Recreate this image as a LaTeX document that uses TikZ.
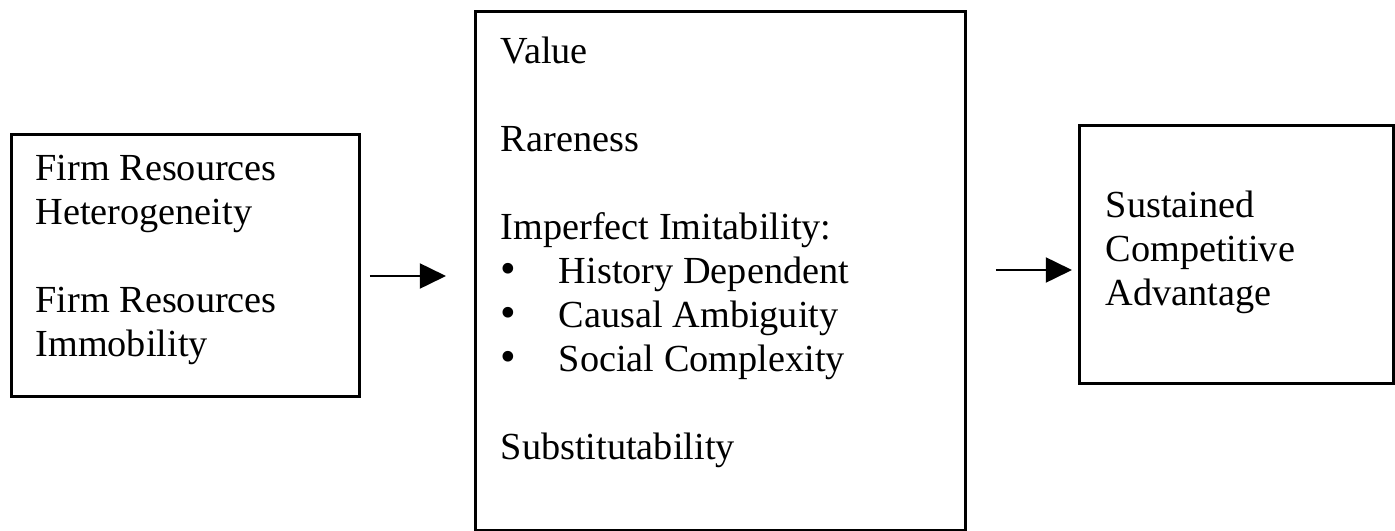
\documentclass[tikz,border=0pt]{standalone}
\usepackage{fontspec}
\setmainfont{Liberation Serif}
\usetikzlibrary{arrows.meta, positioning}

\newcommand{\bulletitem}{\makebox[18.2pt][l]{\fontsize{14}{13.8}\selectfont\textbullet}}

\tikzset{
  box/.style={draw, line width=0.9pt, rectangle, inner sep=0pt, anchor=north west},
  boxtext/.style={anchor=north west, align=left, inner sep=0pt},
  flow/.style={-{Triangle[length=8.2pt, width=7.8pt]}, line width=0.8pt}
}

\begin{document}
\begin{tikzpicture}[font=\fontsize{12}{13.8}\selectfont]
% Grid unit (one step of the layout)
\pgfmathsetmacro{\ppx}{0.3135}
\begin{scope}[x=\ppx pt, y=-\ppx pt]
\useasboundingbox (0,0) rectangle (1395,531);

% Draw boxes
\node[box, minimum width=348*\ppx pt, minimum height=262*\ppx pt] (resources) at (10,133) {};
\node[box, minimum width=490*\ppx pt, minimum height=519*\ppx pt] (attributes) at (474,10) {};
\node[box, minimum width=314*\ppx pt, minimum height=258*\ppx pt] (advantage) at (1078,124) {};

% Box contents
\node[boxtext, below right=5.1pt and 7.8pt of resources.north west] (resources text)
  {\strut Firm Resources\\ Heterogeneity\\[\baselineskip] Firm Resources\\ Immobility};
\node[boxtext, below right=6.9pt and 8.2pt of attributes.north west] (attributes text)
  {\strut Value\\[\baselineskip] Rareness\\[\baselineskip] Imperfect Imitability:\\
   \bulletitem History Dependent\\ \bulletitem Causal Ambiguity\\ \bulletitem Social Complexity\\[\baselineskip]
   Substitutability};
\node[boxtext, below right=19.5pt and 8.5pt of advantage.north west] (advantage text)
  {\strut Sustained\\ Competitive\\ Advantage};

% Draw arrows
\draw[flow, shorten <=9*\ppx pt, shorten >=28*\ppx pt] (resources.east |- 0,276) -- (attributes.west |- 0,276);
\draw[flow, shorten <=29*\ppx pt, shorten >=6*\ppx pt] (attributes.east |- 0,270) -- (advantage.west |- 0,270);
\end{scope}
\end{tikzpicture}
\end{document}
